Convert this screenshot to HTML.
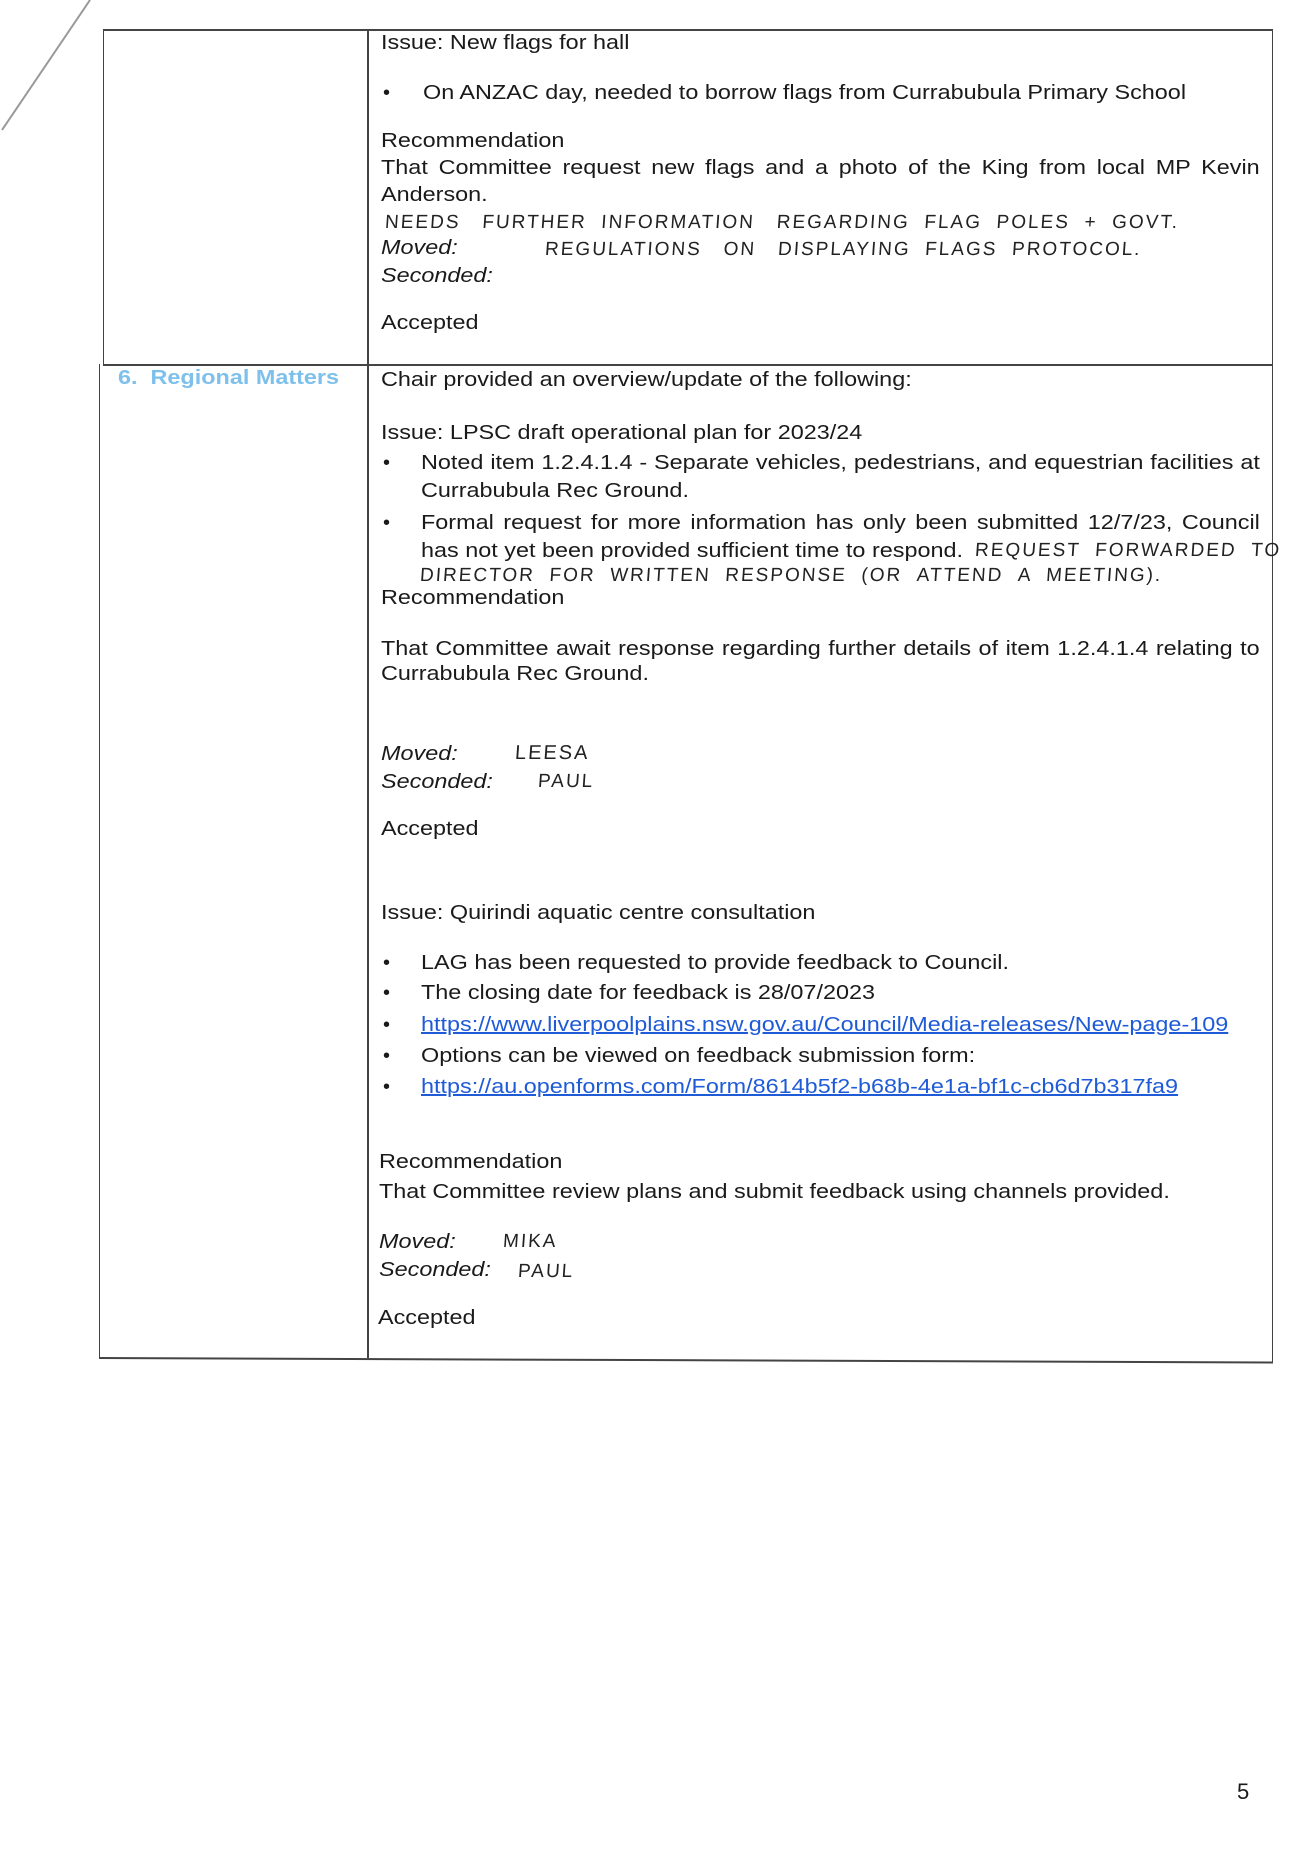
<!DOCTYPE html>
<html><head><meta charset="utf-8"><style>
html,body{margin:0;padding:0;background:#fff;}
body{width:1289px;height:1868px;position:relative;overflow:hidden;font-family:"Liberation Sans",Arial,sans-serif;color:#1a1a1a;}
.t{position:absolute;font-size:20px;line-height:24px;white-space:nowrap;transform:scaleX(1.17);transform-origin:left top;}
.j{white-space:normal;text-align:justify;text-align-last:justify;}
.i{font-style:italic;}
.b{position:absolute;font-size:20px;line-height:24px;}
.h{position:absolute;font-family:"Liberation Sans",sans-serif;font-size:19px;line-height:20px;white-space:nowrap;color:#222;letter-spacing:2px;transform:skewX(-4deg);}
a{color:#1f5bd6;text-decoration:underline;}
.ln{position:absolute;background:#444;}
</style></head><body>
<svg style="position:absolute;left:0;top:0" width="120" height="150"><line x1="90" y1="0" x2="2" y2="130" stroke="#999" stroke-width="2"/></svg>
<div class="ln" style="left:103px;top:29px;width:1170px;height:2px;"></div>
<div class="ln" style="left:103px;top:29px;width:1px;height:336px;"></div>
<div class="ln" style="left:99px;top:364px;width:1px;height:994px;"></div>
<div class="ln" style="left:1272px;top:29px;width:1px;height:1334px;"></div>
<div class="ln" style="left:367px;top:29px;width:2px;height:1329px;"></div>
<div class="ln" style="left:103px;top:364px;width:1170px;height:2px;"></div>
<div class="ln" style="left:99px;top:1357px;width:1174px;height:2px;transform:rotate(0.22deg);transform-origin:left;"></div>

<div class="t" style="left:381px;top:31px;">Issue: New flags for hall</div>
<div class="b" style="left:383px;top:81px;">•</div>
<div class="t" style="left:423px;top:81px;">On ANZAC day, needed to borrow flags from Currabubula Primary School</div>
<div class="t" style="left:381px;top:129px;">Recommendation</div>
<div class="t j" style="left:381px;top:156px;width:751px;">That Committee request new flags and a photo of the King from local MP Kevin</div>
<div class="t" style="left:381px;top:183px;">Anderson.</div>
<div class="h" style="left:385px;top:213px;">NEEDS &nbsp; FURTHER &nbsp;INFORMATION &nbsp;&nbsp;REGARDING &nbsp;FLAG &nbsp;POLES &nbsp;+ &nbsp;GOVT.</div>
<div class="h" style="left:545px;top:240px;">REGULATIONS &nbsp;&nbsp;ON &nbsp;&nbsp;DISPLAYING &nbsp;FLAGS &nbsp;PROTOCOL.</div>
<div class="t i" style="left:381px;top:236px;">Moved:</div>
<div class="t i" style="left:381px;top:264px;">Seconded:</div>
<div class="t" style="left:381px;top:311px;">Accepted</div>

<div class="t" style="left:118px;top:366px;color:#7ec0ec;font-weight:bold;">6.&nbsp; Regional Matters</div>
<div class="t" style="left:381px;top:368px;">Chair provided an overview/update of the following:</div>
<div class="t" style="left:381px;top:421px;">Issue: LPSC draft operational plan for 2023/24</div>
<div class="b" style="left:383px;top:451px;">•</div>
<div class="t j" style="left:421px;top:451px;width:717px;">Noted item 1.2.4.1.4 - Separate vehicles, pedestrians, and equestrian facilities at</div>
<div class="t" style="left:421px;top:479px;">Currabubula Rec Ground.</div>
<div class="b" style="left:383px;top:511px;">•</div>
<div class="t j" style="left:421px;top:511px;width:717px;">Formal request for more information has only been submitted 12/7/23, Council</div>
<div class="t" style="left:421px;top:539px;">has not yet been provided sufficient time to respond.</div>
<div class="h" style="left:975px;top:541px;">REQUEST &nbsp;FORWARDED &nbsp;TO</div>
<div class="h" style="left:420px;top:566px;">DIRECTOR &nbsp;FOR &nbsp;WRITTEN &nbsp;RESPONSE &nbsp;(OR &nbsp;ATTEND &nbsp;A &nbsp;MEETING).</div>
<div class="t" style="left:381px;top:586px;">Recommendation</div>
<div class="t j" style="left:381px;top:637px;width:751px;">That Committee await response regarding further details of item 1.2.4.1.4 relating to</div>
<div class="t" style="left:381px;top:662px;">Currabubula Rec Ground.</div>
<div class="t i" style="left:381px;top:742px;">Moved:</div>
<div class="h" style="left:515px;top:743px;font-size:20px;">LEESA</div>
<div class="t i" style="left:381px;top:770px;">Seconded:</div>
<div class="h" style="left:538px;top:772px;">PAUL</div>
<div class="t" style="left:381px;top:817px;">Accepted</div>

<div class="t" style="left:381px;top:901px;">Issue: Quirindi aquatic centre consultation</div>
<div class="b" style="left:383px;top:951px;">•</div>
<div class="t" style="left:421px;top:951px;">LAG has been requested to provide feedback to Council.</div>
<div class="b" style="left:383px;top:981px;">•</div>
<div class="t" style="left:421px;top:981px;">The closing date for feedback is 28/07/2023</div>
<div class="b" style="left:383px;top:1013px;">•</div>
<div class="t" style="left:421px;top:1013px;"><a>https://www.liverpoolplains.nsw.gov.au/Council/Media-releases/New-page-109</a></div>
<div class="b" style="left:383px;top:1044px;">•</div>
<div class="t" style="left:421px;top:1044px;">Options can be viewed on feedback submission form:</div>
<div class="b" style="left:383px;top:1075px;">•</div>
<div class="t" style="left:421px;top:1075px;"><a>https://au.openforms.com/Form/8614b5f2-b68b-4e1a-bf1c-cb6d7b317fa9</a></div>
<div class="t" style="left:379px;top:1150px;">Recommendation</div>
<div class="t" style="left:379px;top:1180px;">That Committee review plans and submit feedback using channels provided.</div>
<div class="t i" style="left:379px;top:1230px;">Moved:</div>
<div class="h" style="left:503px;top:1232px;">MIKA</div>
<div class="t i" style="left:379px;top:1258px;">Seconded:</div>
<div class="h" style="left:518px;top:1262px;">PAUL</div>
<div class="t" style="left:378px;top:1306px;">Accepted</div>

<div class="t" style="left:1237px;top:1780px;font-size:22px;transform:none;">5</div>
</body></html>
